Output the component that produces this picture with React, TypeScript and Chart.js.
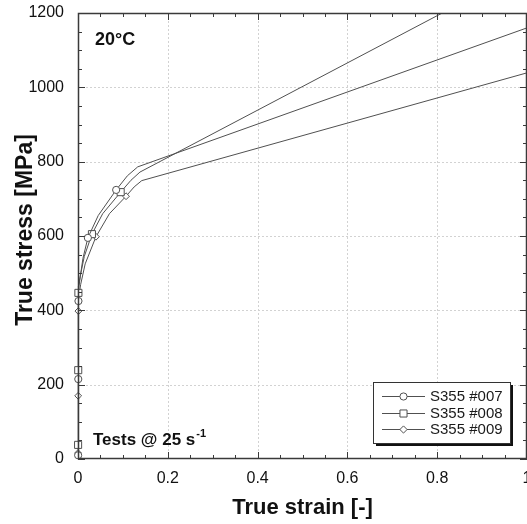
import React, { useEffect, useRef } from "react";
import { Chart, registerables } from "chart.js";
Chart.register(...registerables);

// ---- data ----
const seriesNames = ["S355 #007", "S355 #008", "S355 #009"];

const strain007 = [0, 0.0003, 0.0006, 0.001, 0.002, 0.005, 0.011, 0.022, 0.045, 0.085, 0.11, 0.133, 1.0];
const stress007 = [0, 10, 215, 425, 455, 490, 540, 595, 655, 724, 762, 786, 1160];
const markers007 = [1, 2, 3, 7, 9];

const strain008 = [0, 0.0002, 0.0005, 0.0009, 0.002, 0.006, 0.014, 0.031, 0.055, 0.095, 0.118, 0.138, 1.0];
const stress008 = [0, 38, 239, 447, 465, 498, 545, 605, 660, 718, 750, 772, 1320];
const markers008 = [1, 2, 3, 7, 9];

const strain009 = [0, 0.0001, 0.0004, 0.0008, 0.002, 0.006, 0.016, 0.04, 0.07, 0.107, 0.125, 0.142, 1.0];
const stress009 = [0, 16, 170, 398, 430, 470, 525, 598, 660, 707, 732, 749, 1039];
const markers009 = [1, 2, 3, 7, 9];

const xTickValues = [0, 0.2, 0.4, 0.6, 0.8, 1];
const yTickValues = [0, 200, 400, 600, 800, 1000, 1200];
const xMinorStep = 0.05;
const yMinorStep = 50;

const xTitle = "True strain [-]";
const yTitle = "True stress [MPa]";
const tempLabel = "20°C";
const rateLabel = "Tests @ 25 s";
const rateSup = "-1";

const FONT = "'Liberation Sans', Arial, sans-serif";
const LINE = "#505050";
const AXIS = "#3a3a3a";
const TEXT = "#111";

const pointStyles = ["circle", "rect", "rectRot"];
const pointRadii = [3.6, 5, 3.4];

function toXY(xs: number[], ys: number[]) {
  return xs.map((v, i) => ({ x: v, y: ys[i] }));
}

function drawMarker(ctx: CanvasRenderingContext2D, style: string, x: number, y: number, r: number) {
  ctx.beginPath();
  if (style === "circle") {
    ctx.arc(x, y, r, 0, Math.PI * 2);
  } else if (style === "rect") {
    const s = r * Math.SQRT1_2;
    ctx.rect(x - s, y - s, 2 * s, 2 * s);
  } else {
    ctx.moveTo(x, y - r);
    ctx.lineTo(x + r, y);
    ctx.lineTo(x, y + r);
    ctx.lineTo(x - r, y);
    ctx.closePath();
  }
  ctx.fillStyle = "#fff";
  ctx.fill();
  ctx.strokeStyle = LINE;
  ctx.lineWidth = 1;
  ctx.stroke();
}

const decor = {
  id: "decor",
  beforeDatasetsDraw(chart: any) {
    const { ctx, chartArea: a, scales } = chart;
    const x = scales.x, y = scales.y;
    ctx.save();
    ctx.strokeStyle = "#d2d2d2";
    ctx.lineWidth = 1;
    ctx.setLineDash([2, 2]);
    xTickValues.forEach((v) => {
      if (v === 0 || v === 1) return;
      const px = Math.round(x.getPixelForValue(v)) + 0.5;
      ctx.beginPath();
      ctx.moveTo(px, a.top);
      ctx.lineTo(px, a.bottom);
      ctx.stroke();
    });
    yTickValues.forEach((v) => {
      if (v === 0 || v === 1200) return;
      const py = Math.round(y.getPixelForValue(v)) + 0.5;
      ctx.beginPath();
      ctx.moveTo(a.left, py);
      ctx.lineTo(a.right, py);
      ctx.stroke();
    });
    ctx.restore();
  },
  afterDatasetsDraw(chart: any) {
    const { ctx, chartArea: a, scales } = chart;
    const x = scales.x, y = scales.y;
    ctx.save();
    // frame
    ctx.strokeStyle = AXIS;
    ctx.lineWidth = 1.5;
    ctx.strokeRect(a.left + 0.5, a.top + 0.5, a.right - a.left - 1, a.bottom - a.top - 1);
    // ticks
    ctx.lineWidth = 1;
    const nx = Math.round((x.max - x.min) / xMinorStep);
    for (let i = 0; i <= nx; i++) {
      const v = x.min + i * xMinorStep;
      const len = i % 4 === 0 ? 7 : 4;
      const px = Math.round(x.getPixelForValue(v)) + 0.5;
      ctx.beginPath();
      ctx.moveTo(px, a.bottom);
      ctx.lineTo(px, a.bottom - len);
      ctx.moveTo(px, a.top);
      ctx.lineTo(px, a.top + len);
      ctx.stroke();
    }
    const ny = Math.round((y.max - y.min) / yMinorStep);
    for (let i = 0; i <= ny; i++) {
      const v = y.min + i * yMinorStep;
      const len = i % 4 === 0 ? 7 : 4;
      const py = Math.round(y.getPixelForValue(v)) + 0.5;
      ctx.beginPath();
      ctx.moveTo(a.left, py);
      ctx.lineTo(a.left + len, py);
      ctx.moveTo(a.right, py);
      ctx.lineTo(a.right - len, py);
      ctx.stroke();
    }
    ctx.restore();
  },
  afterDraw(chart: any) {
    const { ctx, chartArea: a } = chart;
    ctx.save();
    ctx.fillStyle = TEXT;
    // axis titles
    ctx.font = `bold 22px ${FONT}`;
    ctx.textAlign = "center";
    ctx.textBaseline = "alphabetic";
    ctx.fillText(xTitle, (a.left + a.right) / 2, 514);
    ctx.save();
    ctx.translate(32, 230);
    ctx.rotate(-Math.PI / 2);
    ctx.font = `bold 23px ${FONT}`;
    ctx.fillText(yTitle, 0, 0);
    ctx.restore();
    // annotations
    ctx.textAlign = "left";
    ctx.font = `bold 18px ${FONT}`;
    ctx.fillText(tempLabel, a.left + 17, a.top + 32);
    ctx.font = `bold 17px ${FONT}`;
    const tx = a.left + 15;
    const ty = 445;
    ctx.fillText(rateLabel, tx, ty);
    const w = ctx.measureText(rateLabel).width;
    ctx.font = `bold 11px ${FONT}`;
    ctx.fillText(rateSup, tx + w + 1, ty - 8);

    // legend
    const lx = 373, ly = 382, lw = 137, lh = 61;
    ctx.fillStyle = "#111";
    ctx.fillRect(lx + 3, ly + 3, lw, lh);
    ctx.fillStyle = "#fff";
    ctx.fillRect(lx, ly, lw, lh);
    ctx.strokeStyle = "#333";
    ctx.lineWidth = 1;
    ctx.strokeRect(lx + 0.5, ly + 0.5, lw, lh);
    const rows = [396, 413, 429];
    ctx.font = `15px ${FONT}`;
    ctx.textBaseline = "middle";
    seriesNames.forEach((name, i) => {
      const ry = rows[i] + 0.5;
      ctx.strokeStyle = LINE;
      ctx.lineWidth = 1;
      ctx.beginPath();
      ctx.moveTo(382, ry);
      ctx.lineTo(425, ry);
      ctx.stroke();
      drawMarker(ctx, pointStyles[i], 403.5, ry, i === 1 ? 5 : 3.6);
      ctx.fillStyle = "#1a1a1a";
      ctx.fillText(name, 430, rows[i] + 1);
    });
    ctx.restore();
  },
};

export default function App() {
  const ref = useRef<HTMLCanvasElement | null>(null);
  useEffect(() => {
    if (!ref.current) return;
    const sets = [
      { xs: strain007, ys: stress007, m: markers007 },
      { xs: strain008, ys: stress008, m: markers008 },
      { xs: strain009, ys: stress009, m: markers009 },
    ];
    const chart = new Chart(ref.current, {
      type: "scatter",
      data: {
        datasets: sets.map((s, i) => ({
          label: seriesNames[i],
          data: toXY(s.xs, s.ys),
          showLine: true,
          borderColor: LINE,
          borderWidth: 1,
          tension: 0,
          pointStyle: pointStyles[i] as any,
          pointRadius: (c: any) => (s.m.includes(c.dataIndex) ? pointRadii[i] : 0),
          pointHoverRadius: (c: any) => (s.m.includes(c.dataIndex) ? pointRadii[i] : 0),
          pointBackgroundColor: "#fff",
          pointBorderColor: LINE,
          pointBorderWidth: 1,
          clip: { left: 12, right: 0, top: 0, bottom: 12 } as any,
        })),
      },
      options: {
        animation: false,
        responsive: false,
        events: [],
        layout: { padding: { top: 13, right: 0, left: 0, bottom: 0 } },
        plugins: { legend: { display: false }, tooltip: { enabled: false } },
        scales: {
          x: {
            type: "linear",
            min: 0,
            max: 1,
            grid: { display: false, drawTicks: false },
            border: { display: false },
            afterBuildTicks: (sc: any) => {
              sc.ticks = xTickValues.map((v) => ({ value: v }));
            },
            afterFit: (sc: any) => {
              sc.height = 65;
              sc.paddingLeft = 0;
              sc.paddingRight = 0;
            },
            ticks: {
              autoSkip: false,
              maxRotation: 0,
              padding: 10,
              color: TEXT,
              font: { family: FONT, size: 16 },
              callback: (v: any) => String(Number(v)),
            },
          },
          y: {
            type: "linear",
            min: 0,
            max: 1200,
            grid: { display: false, drawTicks: false },
            border: { display: false },
            afterBuildTicks: (sc: any) => {
              sc.ticks = yTickValues.map((v) => ({ value: v }));
            },
            afterFit: (sc: any) => {
              sc.width = 78;
              sc.paddingTop = 0;
              sc.paddingBottom = 0;
            },
            ticks: {
              autoSkip: false,
              padding: 14,
              color: TEXT,
              font: { family: FONT, size: 16 },
              callback: (v: any) => String(Number(v)),
            },
          },
        },
      },
      plugins: [decor],
    });
    return () => chart.destroy();
  }, []);
  return (
    <div style={{ position: "fixed", left: 0, top: 0, width: 527, height: 524, background: "#fff" }}>
      <canvas ref={ref} width={527} height={524} style={{ display: "block" }} />
    </div>
  );
}
